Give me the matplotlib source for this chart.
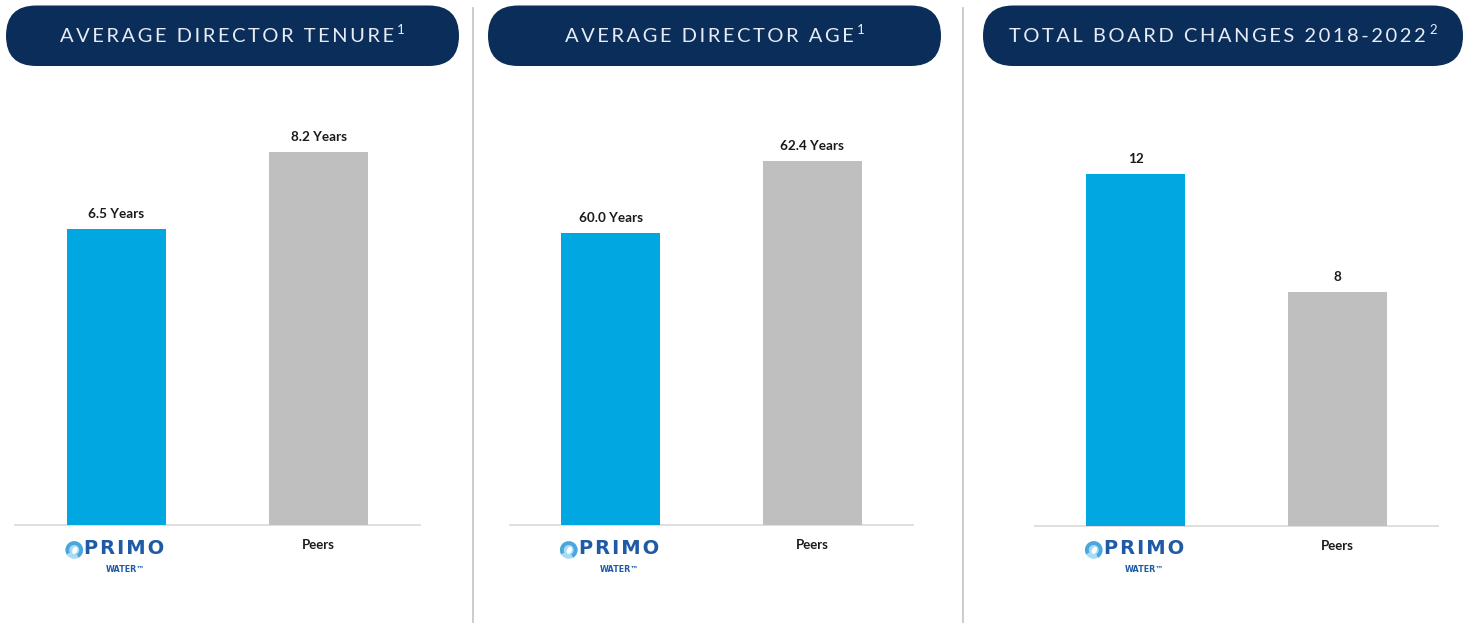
import matplotlib
matplotlib.use("Agg")
import matplotlib.pyplot as plt
from matplotlib.patches import FancyBboxPatch, Circle, Wedge, Ellipse

# ---- data -------------------------------------------------------------
categories = ["Primo Water", "Peers"]
tick_labels = ["", "Peers"]

panel_titles = [
    "AVERAGE DIRECTOR TENURE",
    "AVERAGE DIRECTOR AGE",
    "TOTAL BOARD CHANGES 2018-2022",
]
title_notes = ["1", "1", "2"]
tenure_years = [6.5, 8.2]
age_years = [60.0, 62.4]
board_changes = [12, 8]

tenure_labels = ["6.5 Years", "8.2 Years"]
age_labels = ["60.0 Years", "62.4 Years"]
change_labels = ["12", "8"]

# ---- style ------------------------------------------------------------
W, H = 1478, 624
NAVY = "#0b2d59"
BLUE = "#00a7e1"
GREY = "#bfbfbf"
LOGO_BLUE = "#1f5aa6"
TEXT = "#1a1a1a"
TITLE_TEXT = "#e6ecf3"

plt.rcParams["font.family"] = ["Lato", "DejaVu Sans"]

fig = plt.figure(figsize=(W / 100, H / 100), dpi=100)
fig.patch.set_facecolor("white")
renderer = fig.canvas.get_renderer()

# full-figure overlay in pixel units for the banners, dividers and logos
deco = fig.add_axes([0, 0, 1, 1], zorder=0)
deco.set_xlim(0, W)
deco.set_ylim(H, 0)
deco.axis("off")


def px_rect(x0, x1, y_top, y_bottom):
    return [x0 / W, 1 - y_bottom / H, (x1 - x0) / W, (y_bottom - y_top) / H]


def tracked(s, gap="\u2009"):
    return gap.join(s)


panels = [
    dict(title=panel_titles[0], note=title_notes[0], values=tenure_years,
         labels=tenure_labels, rect=px_rect(15, 420, 100, 525),
         ylim=(0, 9.347), pill=(6, 459)),
    dict(title=panel_titles[1], note=title_notes[1], values=age_years,
         labels=age_labels, rect=px_rect(510, 913, 100, 525),
         ylim=(50.317, 64.425), pill=(488, 941)),
    dict(title=panel_titles[2], note=title_notes[2], values=board_changes,
         labels=change_labels, rect=px_rect(1035, 1438, 100, 526),
         ylim=(0, 14.54), pill=(983, 1463)),
]

for p in panels:
    ax = fig.add_axes(p["rect"], zorder=2)
    ax.set_facecolor("none")
    x = range(len(categories))
    bars = ax.bar(x, p["values"], width=0.49, color=[BLUE, GREY], zorder=3)
    ax.set_xlim(-0.5, 1.5)
    ax.set_ylim(*p["ylim"])
    for side in ("top", "right", "left"):
        ax.spines[side].set_visible(False)
    ax.spines["bottom"].set_color("#dcdcdc")
    ax.spines["bottom"].set_linewidth(1.3)
    ax.set_yticks([])
    ax.set_xticks(list(x), tick_labels)
    ax.tick_params(axis="x", length=0, pad=10, labelsize=9.5,
                   labelcolor=TEXT)
    for lab in ax.get_xticklabels():
        lab.set_fontweight("bold")
    for rect, lab in zip(bars, p["labels"]):
        ax.annotate(lab,
                    xy=(rect.get_x() + rect.get_width() / 2, rect.get_height()),
                    xytext=(0, 6.5), textcoords="offset points",
                    ha="center", va="bottom", fontsize=9.7,
                    fontweight="bold", color=TEXT)

    # title banner with a footnote marker
    x0, x1 = p["pill"]
    pill = FancyBboxPatch((x0, 5.5), x1 - x0, 60.5,
                          boxstyle="round,pad=0,rounding_size=30.25",
                          fc=NAVY, ec="none")
    deco.add_patch(pill)
    main = deco.text(0, 41.5, tracked(p["title"]), ha="left",
                     va="baseline", fontsize=14.5, color=TITLE_TEXT)
    note = deco.text(0, 34, p["note"], ha="left", va="baseline",
                     fontsize=9.5, color=TITLE_TEXT)
    w_main = main.get_window_extent(renderer).width
    w_note = note.get_window_extent(renderer).width
    gap = 3
    start = (x0 + x1) / 2 - (w_main + gap + w_note) / 2
    main.set_x(start)
    note.set_x(start + w_main + gap)

    # company logo under the first category
    cx = ax.transData.transform((0, p["ylim"][0]))[0]
    ix, iy = cx - 42, 550
    deco.add_patch(Circle((ix, iy), 8.8, fc="#a9dcf3", ec="none"))
    deco.add_patch(Wedge((ix, iy), 8.8, 150, 60, width=3.8,
                         fc="#4aa6dc", ec="none"))
    deco.add_patch(Ellipse((ix + 0.6, iy + 0.3), 4.8, 7.6, angle=25,
                           fc="white", ec="none"))
    deco.text(ix + 10, 553.5, tracked("PRIMO", "\u200a"), ha="left",
              va="baseline", fontsize=14, fontweight="bold",
              color=LOGO_BLUE, family=["DejaVu Sans"])
    deco.text(cx + 9, 572.5, "WATER\u2122", ha="center", va="baseline",
              fontsize=5.8, fontweight="bold", color=LOGO_BLUE,
              family=["DejaVu Sans"])

# vertical dividers between the panels
for xd in (473, 963):
    deco.plot([xd, xd], [8, 622], color="#c8c8c8", lw=1.3)

fig.savefig("out.png", dpi=100, facecolor="white")
